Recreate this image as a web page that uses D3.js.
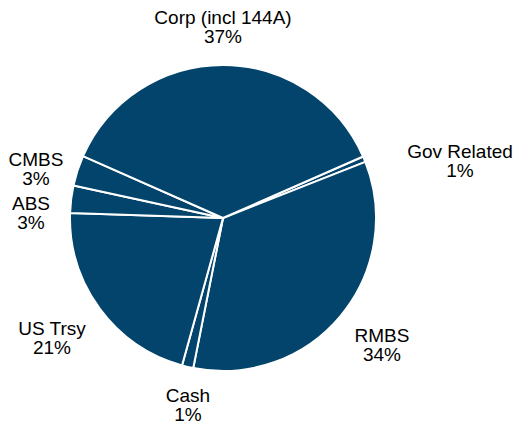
<!DOCTYPE html>
<html>
<head>
<meta charset="utf-8">
<script src="https://cdn.jsdelivr.net/npm/d3@7"></script>
<style>
  body { margin: 0; background: #fff; }
  text { font-family: "Liberation Sans", Arial, sans-serif; fill: #000; }
</style>
</head>
<body>
<div id="chart"></div>
<script>
// slices in drawing order, clockwise from the Gov Related edge
const sectors = ["Gov Related", "RMBS", "Cash", "US Trsy", "ABS", "CMBS", "Corp (incl 144A)"]
const shares = [0.6, 34.1, 1.2, 21.2, 2.9, 3.2, 36.8]
const shareLabels = ["1%", "34%", "1%", "21%", "3%", "3%", "37%"]
// label anchor points (centre x, first baseline)
const labelPos = [[460, 158], [382, 342], [188, 402], [52, 335], [31, 210], [36, 166], [223, 24]]

const width = 515, height = 428;
const cx = 223, cy = 218, radius = 153;

const svg = d3.select("#chart")
    .append("svg")
    .attr("width", width)
    .attr("height", height);

const pie = d3.pie()
    .sort(null)
    .value(d => d)
    .startAngle(66.3 * Math.PI / 180)
    .endAngle(66.3 * Math.PI / 180 + 2 * Math.PI);

const arc = d3.arc().innerRadius(0).outerRadius(radius);

const g = svg.append("g")
    .attr("transform", `translate(${cx},${cy})`);

g.selectAll(".slice")
    .data(pie(shares))
    .join("path")
    .attr("class", "slice")
    .attr("d", arc)
    .style("fill", "#02446b")
    .style("stroke", "#fff")
    .style("stroke-width", 2)
    .style("stroke-linejoin", "round");

const labels = svg.selectAll(".lbl")
    .data(sectors)
    .join("text")
    .attr("class", "lbl")
    .attr("text-anchor", "middle")
    .style("font-size", "19px");

labels.append("tspan")
    .attr("x", (d, i) => labelPos[i][0])
    .attr("y", (d, i) => labelPos[i][1])
    .text(d => d);

labels.append("tspan")
    .attr("x", (d, i) => labelPos[i][0])
    .attr("y", (d, i) => labelPos[i][1] + 19)
    .text((d, i) => shareLabels[i]);
</script>
</body>
</html>
